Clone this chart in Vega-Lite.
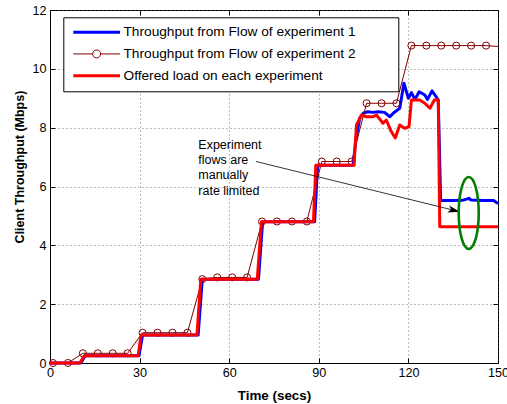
{
  "$schema": "https://vega.github.io/schema/vega-lite/v6.json",
  "width": 448,
  "height": 353,
  "autosize": {"type": "none"},
  "padding": {"left": 50, "top": 10, "right": 9, "bottom": 41},
  "background": "white",
  "config": {
    "font": "Liberation Sans",
    "view": {"stroke": "black", "strokeWidth": 1},
    "axis": {
      "domainColor": "black",
      "tickColor": "black",
      "labelColor": "black",
      "titleColor": "black",
      "labelFontSize": 12.6,
      "labelFont": "Liberation Sans",
      "titleFont": "Liberation Sans",
      "titleFontWeight": "bold",
      "tickSize": -5,
      "gridColor": "#555555",
      "gridDash": [1, 3],
      "gridWidth": 0.8,
      "labelFlush": false,
      "labelOverlap": false
    }
  },
  "datasets": {
    "series": [
      {"series": "Throughput from Flow of experiment 1", "t": 0, "v": 0},
      {"series": "Throughput from Flow of experiment 1", "t": 10.3, "v": 0},
      {"series": "Throughput from Flow of experiment 1", "t": 11.8, "v": 0.25},
      {"series": "Throughput from Flow of experiment 1", "t": 29.8, "v": 0.25},
      {"series": "Throughput from Flow of experiment 1", "t": 31, "v": 0.95},
      {"series": "Throughput from Flow of experiment 1", "t": 49.6, "v": 0.95},
      {"series": "Throughput from Flow of experiment 1", "t": 51, "v": 2.85},
      {"series": "Throughput from Flow of experiment 1", "t": 69.8, "v": 2.85},
      {"series": "Throughput from Flow of experiment 1", "t": 71.2, "v": 4.8},
      {"series": "Throughput from Flow of experiment 1", "t": 88.6, "v": 4.8},
      {"series": "Throughput from Flow of experiment 1", "t": 89.6, "v": 6.72},
      {"series": "Throughput from Flow of experiment 1", "t": 101.5, "v": 6.72},
      {"series": "Throughput from Flow of experiment 1", "t": 102.4, "v": 7.6},
      {"series": "Throughput from Flow of experiment 1", "t": 103.7, "v": 8.32},
      {"series": "Throughput from Flow of experiment 1", "t": 105, "v": 8.5},
      {"series": "Throughput from Flow of experiment 1", "t": 106.5, "v": 8.54},
      {"series": "Throughput from Flow of experiment 1", "t": 108, "v": 8.52},
      {"series": "Throughput from Flow of experiment 1", "t": 110, "v": 8.54},
      {"series": "Throughput from Flow of experiment 1", "t": 112, "v": 8.52},
      {"series": "Throughput from Flow of experiment 1", "t": 113.8, "v": 8.37},
      {"series": "Throughput from Flow of experiment 1", "t": 115, "v": 8.5},
      {"series": "Throughput from Flow of experiment 1", "t": 117.1, "v": 8.66},
      {"series": "Throughput from Flow of experiment 1", "t": 118.5, "v": 9.51},
      {"series": "Throughput from Flow of experiment 1", "t": 120, "v": 9.0},
      {"series": "Throughput from Flow of experiment 1", "t": 121, "v": 9.19},
      {"series": "Throughput from Flow of experiment 1", "t": 122.2, "v": 8.96},
      {"series": "Throughput from Flow of experiment 1", "t": 123.6, "v": 9.22},
      {"series": "Throughput from Flow of experiment 1", "t": 125.5, "v": 9.11},
      {"series": "Throughput from Flow of experiment 1", "t": 126.4, "v": 8.96},
      {"series": "Throughput from Flow of experiment 1", "t": 127.9, "v": 9.25},
      {"series": "Throughput from Flow of experiment 1", "t": 128.9, "v": 9.11},
      {"series": "Throughput from Flow of experiment 1", "t": 130, "v": 8.94},
      {"series": "Throughput from Flow of experiment 1", "t": 130.8, "v": 5.52},
      {"series": "Throughput from Flow of experiment 1", "t": 135, "v": 5.52},
      {"series": "Throughput from Flow of experiment 1", "t": 138, "v": 5.53},
      {"series": "Throughput from Flow of experiment 1", "t": 139.5, "v": 5.57},
      {"series": "Throughput from Flow of experiment 1", "t": 140.2, "v": 5.6},
      {"series": "Throughput from Flow of experiment 1", "t": 141, "v": 5.54},
      {"series": "Throughput from Flow of experiment 1", "t": 145, "v": 5.52},
      {"series": "Throughput from Flow of experiment 1", "t": 148.5, "v": 5.52},
      {"series": "Throughput from Flow of experiment 1", "t": 150, "v": 5.42},
      {"series": "Throughput from Flow of experiment 2", "t": 1, "v": 0},
      {"series": "Throughput from Flow of experiment 2", "t": 6, "v": 0},
      {"series": "Throughput from Flow of experiment 2", "t": 11, "v": 0.33},
      {"series": "Throughput from Flow of experiment 2", "t": 16, "v": 0.33},
      {"series": "Throughput from Flow of experiment 2", "t": 21, "v": 0.33},
      {"series": "Throughput from Flow of experiment 2", "t": 26, "v": 0.33},
      {"series": "Throughput from Flow of experiment 2", "t": 31, "v": 1.03},
      {"series": "Throughput from Flow of experiment 2", "t": 36, "v": 1.03},
      {"series": "Throughput from Flow of experiment 2", "t": 41, "v": 1.03},
      {"series": "Throughput from Flow of experiment 2", "t": 46, "v": 1.03},
      {"series": "Throughput from Flow of experiment 2", "t": 51, "v": 2.85},
      {"series": "Throughput from Flow of experiment 2", "t": 56, "v": 2.91},
      {"series": "Throughput from Flow of experiment 2", "t": 61, "v": 2.91},
      {"series": "Throughput from Flow of experiment 2", "t": 66, "v": 2.91},
      {"series": "Throughput from Flow of experiment 2", "t": 71, "v": 4.81},
      {"series": "Throughput from Flow of experiment 2", "t": 76, "v": 4.81},
      {"series": "Throughput from Flow of experiment 2", "t": 81, "v": 4.81},
      {"series": "Throughput from Flow of experiment 2", "t": 86, "v": 4.81},
      {"series": "Throughput from Flow of experiment 2", "t": 91, "v": 6.85},
      {"series": "Throughput from Flow of experiment 2", "t": 96, "v": 6.85},
      {"series": "Throughput from Flow of experiment 2", "t": 101, "v": 6.85},
      {"series": "Throughput from Flow of experiment 2", "t": 106, "v": 8.83},
      {"series": "Throughput from Flow of experiment 2", "t": 111, "v": 8.83},
      {"series": "Throughput from Flow of experiment 2", "t": 116, "v": 8.83},
      {"series": "Throughput from Flow of experiment 2", "t": 121, "v": 10.79},
      {"series": "Throughput from Flow of experiment 2", "t": 126, "v": 10.79},
      {"series": "Throughput from Flow of experiment 2", "t": 131, "v": 10.79},
      {"series": "Throughput from Flow of experiment 2", "t": 136, "v": 10.79},
      {"series": "Throughput from Flow of experiment 2", "t": 141, "v": 10.79},
      {"series": "Throughput from Flow of experiment 2", "t": 146, "v": 10.79},
      {"series": "Throughput from Flow of experiment 2", "t": 150, "v": 10.76},
      {"series": "Offered load on each experiment", "t": 0, "v": 0},
      {"series": "Offered load on each experiment", "t": 10, "v": 0},
      {"series": "Offered load on each experiment", "t": 11.5, "v": 0.25},
      {"series": "Offered load on each experiment", "t": 29.5, "v": 0.25},
      {"series": "Offered load on each experiment", "t": 30.5, "v": 0.95},
      {"series": "Offered load on each experiment", "t": 49.2, "v": 0.95},
      {"series": "Offered load on each experiment", "t": 50.5, "v": 2.85},
      {"series": "Offered load on each experiment", "t": 69.4, "v": 2.85},
      {"series": "Offered load on each experiment", "t": 70.8, "v": 4.8},
      {"series": "Offered load on each experiment", "t": 88.2, "v": 4.8},
      {"series": "Offered load on each experiment", "t": 89, "v": 6.72},
      {"series": "Offered load on each experiment", "t": 101.8, "v": 6.72},
      {"series": "Offered load on each experiment", "t": 102.6, "v": 8.09},
      {"series": "Offered load on each experiment", "t": 104.3, "v": 8.43},
      {"series": "Offered load on each experiment", "t": 106, "v": 8.37},
      {"series": "Offered load on each experiment", "t": 108, "v": 8.37},
      {"series": "Offered load on each experiment", "t": 109.3, "v": 8.43},
      {"series": "Offered load on each experiment", "t": 111.5, "v": 8.15},
      {"series": "Offered load on each experiment", "t": 112.6, "v": 8.26},
      {"series": "Offered load on each experiment", "t": 114.3, "v": 7.86},
      {"series": "Offered load on each experiment", "t": 115.6, "v": 7.65},
      {"series": "Offered load on each experiment", "t": 117.1, "v": 8.09},
      {"series": "Offered load on each experiment", "t": 118.7, "v": 7.98},
      {"series": "Offered load on each experiment", "t": 120.2, "v": 8.03},
      {"series": "Offered load on each experiment", "t": 121, "v": 8.94},
      {"series": "Offered load on each experiment", "t": 123.8, "v": 8.94},
      {"series": "Offered load on each experiment", "t": 125.5, "v": 8.83},
      {"series": "Offered load on each experiment", "t": 127.2, "v": 8.66},
      {"series": "Offered load on each experiment", "t": 128.7, "v": 8.94},
      {"series": "Offered load on each experiment", "t": 130, "v": 8.94},
      {"series": "Offered load on each experiment", "t": 130.5, "v": 4.63},
      {"series": "Offered load on each experiment", "t": 150, "v": 4.63}
    ],
    "note": [{"x": 49.65, "y": 7.41, "label": ["Experiment", "flows are", "manually", "rate limited"]}],
    "arrow": [{"x": 68.97, "y": 6.85, "x2": 135.3, "y2": 5.19}],
    "head": [{"x": 135.3, "y": 5.19}],
    "ellipse": [{"x": 140.2, "y": 5.1}]
  },
  "layer": [
    {
      "data": {"name": "series"},
      "transform": [{"filter": "datum.series === 'Throughput from Flow of experiment 1'"}],
      "mark": {"type": "line", "strokeJoin": "round", "strokeWidth": 3},
      "encoding": {
        "x": {"field": "t", "type": "quantitative", "scale": {"domain": [0, 150], "nice": false},
          "axis": {"orient": "top", "values": [0, 30, 60, 90, 120, 150], "labels": false, "title": null, "grid": false, "domain": false}},
        "y": {"field": "v", "type": "quantitative", "scale": {"domain": [0, 12], "nice": false},
          "axis": {"orient": "right", "values": [0, 2, 4, 6, 8, 10, 12], "labels": false, "title": null, "grid": false, "domain": false}},
        "color": {"field": "series", "type": "nominal",
          "scale": {"domain": ["Throughput from Flow of experiment 1", "Throughput from Flow of experiment 2", "Offered load on each experiment"], "range": ["#0000ff", "#800000", "#ff0000"]},
          "legend": {
            "title": null, "orient": "none", "legendX": 13.3, "legendY": 7.3, "padding": 8,
            "strokeColor": "black", "fillColor": "white", "cornerRadius": 0,
            "labelFontSize": 13.7, "labelColor": "black", "labelFont": "Liberation Sans", "labelLimit": 400,
            "symbolSize": 16, "symbolOffset": 18.5, "labelOffset": 20, "rowPadding": 6.8,
            "encode": {"symbols": {"update": {
              "shape": {"signal": "datum.value === 'Throughput from Flow of experiment 2' ? 'M -11.675 0 L -2 0 M 2 0 L 11.675 0 M -2 0 A 2 2 0 1 1 2 0 A 2 2 0 1 1 -2 0 M 143.5 0' : 'M -11.675 0 L 11.675 0 M 143.5 0'"},
              "strokeWidth": {"signal": "datum.value === 'Throughput from Flow of experiment 2' ? 1 : 3"},
              "fill": {"value": "transparent"}
            }}}
          }}
      }
    },
    {
      "data": {"name": "series"},
      "transform": [{"filter": "datum.series === 'Throughput from Flow of experiment 2'"}],
      "mark": {"type": "line", "strokeWidth": 1},
      "encoding": {
        "x": {"field": "t", "type": "quantitative", "scale": {"domain": [0, 150], "nice": false}, "axis": null},
        "y": {"field": "v", "type": "quantitative", "scale": {"domain": [0, 12], "nice": false}, "axis": null},
        "color": {"field": "series", "type": "nominal"}
      }
    },
    {
      "data": {"name": "series"},
      "transform": [{"filter": "datum.series === 'Throughput from Flow of experiment 2' && datum.t <= 146"}],
      "mark": {"type": "point", "shape": "circle", "filled": false, "size": 50, "strokeWidth": 1, "color": "#800000", "opacity": 1},
      "encoding": {
        "x": {"field": "t", "type": "quantitative", "scale": {"domain": [0, 150], "nice": false}, "axis": null},
        "y": {"field": "v", "type": "quantitative", "scale": {"domain": [0, 12], "nice": false}, "axis": null}
      }
    },
    {
      "data": {"name": "series"},
      "transform": [{"filter": "datum.series === 'Offered load on each experiment'"}],
      "mark": {"type": "line", "strokeJoin": "round", "strokeWidth": 3},
      "encoding": {
        "x": {"field": "t", "type": "quantitative", "scale": {"domain": [0, 150], "nice": false},
          "axis": {"orient": "bottom", "values": [0, 30, 60, 90, 120, 150], "grid": true, "title": "Time (secs)", "titleFontSize": 13.4, "labelPadding": 8, "titlePadding": 10}},
        "y": {"field": "v", "type": "quantitative", "scale": {"domain": [0, 12], "nice": false},
          "axis": {"orient": "left", "values": [0, 2, 4, 6, 8, 10, 12], "grid": true, "title": "Client Throughput (Mbps)", "titleFontSize": 12.5, "labelPadding": 9, "titleX": -31, "titleY": 156.5, "titleBaseline": "middle", "titleAlign": "center", "titleAngle": -90}},
        "color": {"field": "series", "type": "nominal"}
      }
    },
    {
      "data": {"name": "note"},
      "mark": {"type": "text", "align": "left", "baseline": "middle", "fontSize": 12.5, "lineHeight": 15.2, "color": "black", "font": "Liberation Sans"},
      "encoding": {
        "x": {"field": "x", "type": "quantitative", "scale": {"domain": [0, 150], "nice": false}, "axis": null},
        "y": {"field": "y", "type": "quantitative", "scale": {"domain": [0, 12], "nice": false}, "axis": null},
        "text": {"field": "label"}
      }
    },
    {
      "data": {"name": "arrow"},
      "mark": {"type": "rule", "color": "black", "strokeWidth": 0.8},
      "encoding": {
        "x": {"field": "x", "type": "quantitative", "scale": {"domain": [0, 150], "nice": false}, "axis": null},
        "y": {"field": "y", "type": "quantitative", "scale": {"domain": [0, 12], "nice": false}, "axis": null},
        "x2": {"field": "x2"},
        "y2": {"field": "y2"}
      }
    },
    {
      "data": {"name": "head"},
      "mark": {"type": "point", "shape": "M 1 0 L -1 -0.6 L -0.5 0 L -1 0.6 Z", "size": 144, "filled": true, "color": "black", "strokeWidth": 0, "angle": 13.8, "opacity": 1},
      "encoding": {
        "x": {"field": "x", "type": "quantitative", "scale": {"domain": [0, 150], "nice": false}, "axis": null},
        "y": {"field": "y", "type": "quantitative", "scale": {"domain": [0, 12], "nice": false}, "axis": null}
      }
    },
    {
      "data": {"name": "ellipse"},
      "mark": {"type": "point", "shape": "M 0 -1 A 0.278 1 0 1 1 0 1 A 0.278 1 0 1 1 0 -1 Z", "size": 5184, "filled": false, "color": "#008000", "strokeWidth": 2.6, "opacity": 1},
      "encoding": {
        "x": {"field": "x", "type": "quantitative", "scale": {"domain": [0, 150], "nice": false}, "axis": null},
        "y": {"field": "y", "type": "quantitative", "scale": {"domain": [0, 12], "nice": false}, "axis": null}
      }
    }
  ]
}
